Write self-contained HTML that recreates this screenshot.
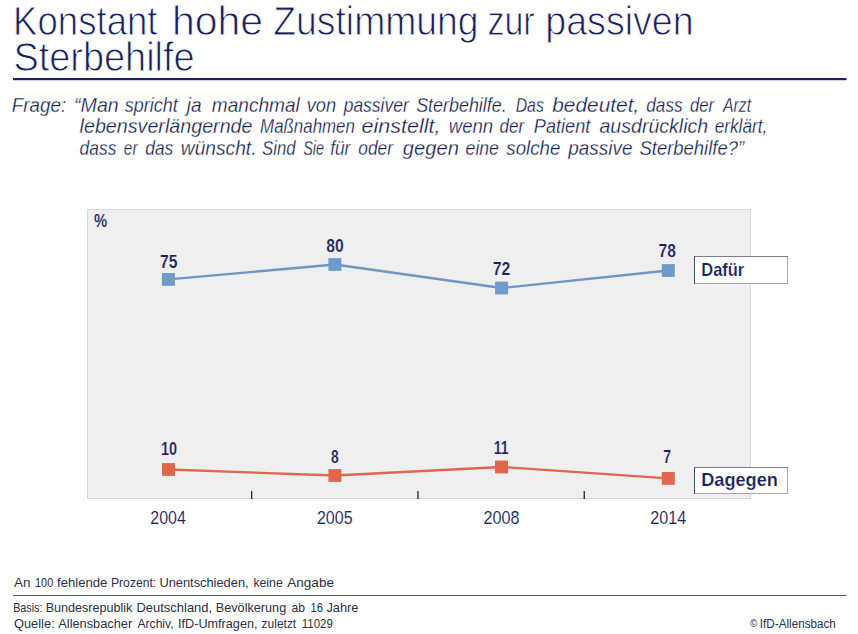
<!DOCTYPE html>
<html><head><meta charset="utf-8">
<title>Konstant hohe Zustimmung zur passiven Sterbehilfe</title>
<style>
html,body{margin:0;padding:0;background:#fff;}
body{width:858px;height:634px;position:relative;overflow:hidden;font-family:"Liberation Sans",sans-serif;}
svg{position:absolute;left:0;top:0;display:block;}
text{font-family:"Liberation Sans",sans-serif;white-space:pre;}
</style></head><body>
<svg width="858" height="634" viewBox="0 0 858 634">
  <rect x="0" y="0" width="858" height="634" fill="#ffffff"/>
  <!-- title rule -->
  <rect x="13" y="78" width="833.5" height="2.2" fill="#1b2260"/>
  <!-- chart frame -->
  <rect x="87.5" y="209.500" width="663" height="289" fill="#efefef" stroke="#d9d9de" stroke-width="1"/>
  <rect x="88" y="498" width="663" height="1" fill="#d2d2d9"/>
  <!-- ticks -->
  <g fill="#1b2040">
    <rect x="251" y="491" width="1.3" height="8"/>
    <rect x="417.3" y="491" width="1.3" height="8"/>
    <rect x="583.600" y="491" width="1.3" height="8"/>
  </g>
  <!-- series: Dafür -->
  <polyline points="168.4,279.4 334.9,264.5 501.6,288.0 668.3,270.5" fill="none" stroke="#6e96c1" stroke-width="2.3"/>
  <g fill="#6f9bc8">
    <rect x="161.9" y="273.0" width="13" height="12.8"/>
    <rect x="328.4" y="258.1" width="13" height="12.8"/>
    <rect x="495.1" y="281.6" width="13" height="12.8"/>
    <rect x="661.8" y="264.1" width="13" height="12.8"/>
  </g>
  <!-- series: Dagegen -->
  <polyline points="168.5,469.5 334.9,475.5 501.5,467.0 668.3,478.4" fill="none" stroke="#dd6850" stroke-width="2.3"/>
  <g fill="#e2654c">
    <rect x="162.0" y="463.1" width="13" height="12.8"/>
    <rect x="328.4" y="469.1" width="13" height="12.8"/>
    <rect x="495.0" y="460.6" width="13" height="12.8"/>
    <rect x="661.8" y="472.0" width="13" height="12.8"/>
  </g>
  <!-- legend boxes -->
  <g>
    <rect x="694.5" y="256.5" width="93" height="27" fill="#ffffff" stroke="#a6a6b2" stroke-width="1"/>
    <rect x="694" y="256" width="94" height="1" fill="#7c7c8c"/>
    <rect x="694" y="256" width="1" height="28" fill="#4a4a60"/>
    <rect x="694.5" y="467.5" width="93" height="26" fill="#ffffff" stroke="#a6a6b2" stroke-width="1"/>
    <rect x="694" y="467" width="94" height="1" fill="#7c7c8c"/>
    <rect x="694" y="467" width="1" height="27" fill="#4a4a60"/>
  </g>
  <!-- footer rule -->
  <rect x="13" y="595" width="833.5" height="1" fill="#555a68"/>
  <!-- text -->
  <text x="13.10" y="34.95" font-size="39.97" textLength="144.44" lengthAdjust="spacingAndGlyphs" fill="#19205e" stroke="#ffffff" stroke-width="0.90" stroke-linejoin="round">Konstant</text>
  <text x="172.00" y="34.95" font-size="39.97" textLength="91.11" lengthAdjust="spacingAndGlyphs" fill="#19205e" stroke="#ffffff" stroke-width="0.90" stroke-linejoin="round">hohe</text>
  <text x="273.32" y="34.95" font-size="39.97" textLength="205.21" lengthAdjust="spacingAndGlyphs" fill="#19205e" stroke="#ffffff" stroke-width="0.90" stroke-linejoin="round">Zustimmung</text>
  <text x="487.40" y="34.95" font-size="39.97" textLength="47.32" lengthAdjust="spacingAndGlyphs" fill="#19205e" stroke="#ffffff" stroke-width="0.90" stroke-linejoin="round">zur</text>
  <text x="545.37" y="34.95" font-size="39.97" textLength="148.17" lengthAdjust="spacingAndGlyphs" fill="#19205e" stroke="#ffffff" stroke-width="0.90" stroke-linejoin="round">passiven</text>
  <text x="13.50" y="70.95" font-size="39.97" textLength="181.11" lengthAdjust="spacingAndGlyphs" fill="#19205e" stroke="#ffffff" stroke-width="0.90" stroke-linejoin="round">Sterbehilfe</text>
  <text x="11.87" y="111.83" font-size="19.42" textLength="54.34" lengthAdjust="spacingAndGlyphs" fill="#161d50" stroke="#ffffff" stroke-width="0.26" stroke-linejoin="round" font-style="italic">Frage:</text>
  <text x="74.06" y="111.83" font-size="19.42" textLength="44.67" lengthAdjust="spacingAndGlyphs" fill="#161d50" stroke="#ffffff" stroke-width="0.26" stroke-linejoin="round" font-style="italic">“Man</text>
  <text x="124.67" y="111.83" font-size="19.42" textLength="53.16" lengthAdjust="spacingAndGlyphs" fill="#161d50" stroke="#ffffff" stroke-width="0.26" stroke-linejoin="round" font-style="italic">spricht</text>
  <text x="186.83" y="111.83" font-size="19.42" textLength="14.90" lengthAdjust="spacingAndGlyphs" fill="#161d50" stroke="#ffffff" stroke-width="0.26" stroke-linejoin="round" font-style="italic">ja</text>
  <text x="211.87" y="111.83" font-size="19.42" textLength="87.88" lengthAdjust="spacingAndGlyphs" fill="#161d50" stroke="#ffffff" stroke-width="0.26" stroke-linejoin="round" font-style="italic">manchmal</text>
  <text x="306.73" y="111.83" font-size="19.42" textLength="29.45" lengthAdjust="spacingAndGlyphs" fill="#161d50" stroke="#ffffff" stroke-width="0.26" stroke-linejoin="round" font-style="italic">von</text>
  <text x="343.67" y="111.83" font-size="19.42" textLength="65.07" lengthAdjust="spacingAndGlyphs" fill="#161d50" stroke="#ffffff" stroke-width="0.26" stroke-linejoin="round" font-style="italic">passiver</text>
  <text x="416.17" y="111.83" font-size="19.42" textLength="90.54" lengthAdjust="spacingAndGlyphs" fill="#161d50" stroke="#ffffff" stroke-width="0.26" stroke-linejoin="round" font-style="italic">Sterbehilfe.</text>
  <text x="515.67" y="111.83" font-size="19.42" textLength="28.22" lengthAdjust="spacingAndGlyphs" fill="#161d50" stroke="#ffffff" stroke-width="0.26" stroke-linejoin="round" font-style="italic">Das</text>
  <text x="552.27" y="111.83" font-size="19.42" textLength="86.96" lengthAdjust="spacingAndGlyphs" fill="#161d50" stroke="#ffffff" stroke-width="0.26" stroke-linejoin="round" font-style="italic">bedeutet,</text>
  <text x="646.27" y="111.83" font-size="19.42" textLength="36.30" lengthAdjust="spacingAndGlyphs" fill="#161d50" stroke="#ffffff" stroke-width="0.26" stroke-linejoin="round" font-style="italic">dass</text>
  <text x="690.07" y="111.83" font-size="19.42" textLength="24.04" lengthAdjust="spacingAndGlyphs" fill="#161d50" stroke="#ffffff" stroke-width="0.26" stroke-linejoin="round" font-style="italic">der</text>
  <text x="722.99" y="111.83" font-size="19.42" textLength="28.23" lengthAdjust="spacingAndGlyphs" fill="#161d50" stroke="#ffffff" stroke-width="0.26" stroke-linejoin="round" font-style="italic">Arzt</text>
  <text x="79.57" y="133.03" font-size="19.42" textLength="172.95" lengthAdjust="spacingAndGlyphs" fill="#161d50" stroke="#ffffff" stroke-width="0.26" stroke-linejoin="round" font-style="italic">lebensverlängernde</text>
  <text x="260.07" y="133.03" font-size="19.42" textLength="94.85" lengthAdjust="spacingAndGlyphs" fill="#161d50" stroke="#ffffff" stroke-width="0.26" stroke-linejoin="round" font-style="italic">Maßnahmen</text>
  <text x="361.57" y="133.03" font-size="19.42" textLength="78.90" lengthAdjust="spacingAndGlyphs" fill="#161d50" stroke="#ffffff" stroke-width="0.26" stroke-linejoin="round" font-style="italic">einstellt,</text>
  <text x="448.77" y="133.03" font-size="19.42" textLength="44.32" lengthAdjust="spacingAndGlyphs" fill="#161d50" stroke="#ffffff" stroke-width="0.26" stroke-linejoin="round" font-style="italic">wenn</text>
  <text x="499.57" y="133.03" font-size="19.42" textLength="24.52" lengthAdjust="spacingAndGlyphs" fill="#161d50" stroke="#ffffff" stroke-width="0.26" stroke-linejoin="round" font-style="italic">der</text>
  <text x="533.87" y="133.03" font-size="19.42" textLength="56.46" lengthAdjust="spacingAndGlyphs" fill="#161d50" stroke="#ffffff" stroke-width="0.26" stroke-linejoin="round" font-style="italic">Patient</text>
  <text x="599.47" y="133.03" font-size="19.42" textLength="108.76" lengthAdjust="spacingAndGlyphs" fill="#161d50" stroke="#ffffff" stroke-width="0.26" stroke-linejoin="round" font-style="italic">ausdrücklich</text>
  <text x="714.67" y="133.03" font-size="19.42" textLength="52.70" lengthAdjust="spacingAndGlyphs" fill="#161d50" stroke="#ffffff" stroke-width="0.26" stroke-linejoin="round" font-style="italic">erklärt,</text>
  <text x="79.57" y="154.53" font-size="19.42" textLength="36.79" lengthAdjust="spacingAndGlyphs" fill="#161d50" stroke="#ffffff" stroke-width="0.26" stroke-linejoin="round" font-style="italic">dass</text>
  <text x="123.87" y="154.53" font-size="19.42" textLength="13.64" lengthAdjust="spacingAndGlyphs" fill="#161d50" stroke="#ffffff" stroke-width="0.26" stroke-linejoin="round" font-style="italic">er</text>
  <text x="145.27" y="154.53" font-size="19.42" textLength="27.99" lengthAdjust="spacingAndGlyphs" fill="#161d50" stroke="#ffffff" stroke-width="0.26" stroke-linejoin="round" font-style="italic">das</text>
  <text x="180.87" y="154.53" font-size="19.42" textLength="75.63" lengthAdjust="spacingAndGlyphs" fill="#161d50" stroke="#ffffff" stroke-width="0.26" stroke-linejoin="round" font-style="italic">wünscht.</text>
  <text x="262.07" y="154.53" font-size="19.42" textLength="33.52" lengthAdjust="spacingAndGlyphs" fill="#161d50" stroke="#ffffff" stroke-width="0.26" stroke-linejoin="round" font-style="italic">Sind</text>
  <text x="303.17" y="154.53" font-size="19.42" textLength="20.81" lengthAdjust="spacingAndGlyphs" fill="#161d50" stroke="#ffffff" stroke-width="0.26" stroke-linejoin="round" font-style="italic">Sie</text>
  <text x="330.17" y="154.53" font-size="19.42" textLength="20.19" lengthAdjust="spacingAndGlyphs" fill="#161d50" stroke="#ffffff" stroke-width="0.26" stroke-linejoin="round" font-style="italic">für</text>
  <text x="358.27" y="154.53" font-size="19.42" textLength="34.69" lengthAdjust="spacingAndGlyphs" fill="#161d50" stroke="#ffffff" stroke-width="0.26" stroke-linejoin="round" font-style="italic">oder</text>
  <text x="402.87" y="154.53" font-size="19.42" textLength="56.19" lengthAdjust="spacingAndGlyphs" fill="#161d50" stroke="#ffffff" stroke-width="0.26" stroke-linejoin="round" font-style="italic">gegen</text>
  <text x="465.57" y="154.53" font-size="19.42" textLength="33.37" lengthAdjust="spacingAndGlyphs" fill="#161d50" stroke="#ffffff" stroke-width="0.26" stroke-linejoin="round" font-style="italic">eine</text>
  <text x="506.37" y="154.53" font-size="19.42" textLength="53.96" lengthAdjust="spacingAndGlyphs" fill="#161d50" stroke="#ffffff" stroke-width="0.26" stroke-linejoin="round" font-style="italic">solche</text>
  <text x="568.25" y="154.53" font-size="19.42" textLength="64.28" lengthAdjust="spacingAndGlyphs" fill="#161d50" stroke="#ffffff" stroke-width="0.26" stroke-linejoin="round" font-style="italic">passive</text>
  <text x="639.47" y="154.53" font-size="19.42" textLength="104.60" lengthAdjust="spacingAndGlyphs" fill="#161d50" stroke="#ffffff" stroke-width="0.26" stroke-linejoin="round" font-style="italic">Sterbehilfe?”</text>
  <text x="14.00" y="586.70" font-size="12.94" textLength="16.50" lengthAdjust="spacingAndGlyphs" fill="#2a2f48">An</text>
  <text x="35.00" y="586.70" font-size="12.94" textLength="18.27" lengthAdjust="spacingAndGlyphs" fill="#2a2f48">100</text>
  <text x="57.10" y="586.70" font-size="12.94" textLength="50.30" lengthAdjust="spacingAndGlyphs" fill="#2a2f48">fehlende</text>
  <text x="110.96" y="586.70" font-size="12.94" textLength="45.30" lengthAdjust="spacingAndGlyphs" fill="#2a2f48">Prozent:</text>
  <text x="159.41" y="586.70" font-size="12.94" textLength="89.18" lengthAdjust="spacingAndGlyphs" fill="#2a2f48">Unentschieden,</text>
  <text x="253.40" y="586.70" font-size="12.94" textLength="29.39" lengthAdjust="spacingAndGlyphs" fill="#2a2f48">keine</text>
  <text x="287.20" y="586.70" font-size="12.94" textLength="46.80" lengthAdjust="spacingAndGlyphs" fill="#2a2f48">Angabe</text>
  <text x="13.17" y="611.60" font-size="12.94" textLength="29.33" lengthAdjust="spacingAndGlyphs" fill="#2a2f48">Basis:</text>
  <text x="45.63" y="611.60" font-size="12.94" textLength="86.76" lengthAdjust="spacingAndGlyphs" fill="#2a2f48">Bundesrepublik</text>
  <text x="136.50" y="611.60" font-size="12.94" textLength="75.60" lengthAdjust="spacingAndGlyphs" fill="#2a2f48">Deutschland,</text>
  <text x="215.82" y="611.60" font-size="12.94" textLength="70.37" lengthAdjust="spacingAndGlyphs" fill="#2a2f48">Bevölkerung</text>
  <text x="291.40" y="611.60" font-size="12.94" textLength="13.48" lengthAdjust="spacingAndGlyphs" fill="#2a2f48">ab</text>
  <text x="310.50" y="611.60" font-size="12.94" textLength="12.37" lengthAdjust="spacingAndGlyphs" fill="#2a2f48">16</text>
  <text x="326.40" y="611.60" font-size="12.94" textLength="32.09" lengthAdjust="spacingAndGlyphs" fill="#2a2f48">Jahre</text>
  <text x="14.00" y="628.40" font-size="12.94" textLength="40.59" lengthAdjust="spacingAndGlyphs" fill="#2a2f48">Quelle:</text>
  <text x="58.30" y="628.40" font-size="12.94" textLength="73.92" lengthAdjust="spacingAndGlyphs" fill="#2a2f48">Allensbacher</text>
  <text x="137.50" y="628.40" font-size="12.94" textLength="36.06" lengthAdjust="spacingAndGlyphs" fill="#2a2f48">Archiv,</text>
  <text x="178.02" y="628.40" font-size="12.94" textLength="79.46" lengthAdjust="spacingAndGlyphs" fill="#2a2f48">IfD-Umfragen,</text>
  <text x="261.60" y="628.40" font-size="12.94" textLength="34.62" lengthAdjust="spacingAndGlyphs" fill="#2a2f48">zuletzt</text>
  <text x="301.70" y="628.40" font-size="12.94" textLength="31.17" lengthAdjust="spacingAndGlyphs" fill="#2a2f48">11029</text>
  <text x="750.00" y="626.70" font-size="10.47" textLength="7.33" lengthAdjust="spacingAndGlyphs" fill="#2a2f48">©</text>
  <text x="759.87" y="627.70" font-size="12.5" textLength="75.99" lengthAdjust="spacingAndGlyphs" fill="#2a2f48">IfD-Allensbach</text>
  <text x="93.90" y="226.70" font-size="17.73" textLength="13.19" lengthAdjust="spacingAndGlyphs" fill="#19205e" stroke="#efefef" stroke-width="0.20" stroke-linejoin="round" font-weight="bold">%</text>
  <text x="160.10" y="267.60" font-size="17.73" textLength="17.47" lengthAdjust="spacingAndGlyphs" fill="#19205e" stroke="#efefef" stroke-width="0.20" stroke-linejoin="round" font-weight="bold">75</text>
  <text x="326.30" y="251.60" font-size="17.73" textLength="17.47" lengthAdjust="spacingAndGlyphs" fill="#19205e" stroke="#efefef" stroke-width="0.20" stroke-linejoin="round" font-weight="bold">80</text>
  <text x="492.70" y="274.80" font-size="17.73" textLength="17.47" lengthAdjust="spacingAndGlyphs" fill="#19205e" stroke="#efefef" stroke-width="0.20" stroke-linejoin="round" font-weight="bold">72</text>
  <text x="658.60" y="256.80" font-size="17.73" textLength="17.37" lengthAdjust="spacingAndGlyphs" fill="#19205e" stroke="#efefef" stroke-width="0.20" stroke-linejoin="round" font-weight="bold">78</text>
  <text x="161.08" y="454.60" font-size="17.73" textLength="16.10" lengthAdjust="spacingAndGlyphs" fill="#19205e" stroke="#efefef" stroke-width="0.20" stroke-linejoin="round" font-weight="bold">10</text>
  <text x="331.10" y="462.80" font-size="17.73" textLength="7.69" lengthAdjust="spacingAndGlyphs" fill="#19205e" stroke="#efefef" stroke-width="0.20" stroke-linejoin="round" font-weight="bold">8</text>
  <text x="493.71" y="453.90" font-size="17.73" textLength="14.77" lengthAdjust="spacingAndGlyphs" fill="#19205e" stroke="#efefef" stroke-width="0.20" stroke-linejoin="round" font-weight="bold">11</text>
  <text x="663.20" y="463.40" font-size="17.73" textLength="7.78" lengthAdjust="spacingAndGlyphs" fill="#19205e" stroke="#efefef" stroke-width="0.20" stroke-linejoin="round" font-weight="bold">7</text>
  <text x="150.34" y="524.06" font-size="17.62" textLength="35.53" lengthAdjust="spacingAndGlyphs" fill="#1a2158" stroke="#ffffff" stroke-width="0.12" stroke-linejoin="round">2004</text>
  <text x="316.94" y="524.06" font-size="17.62" textLength="35.63" lengthAdjust="spacingAndGlyphs" fill="#1a2158" stroke="#ffffff" stroke-width="0.12" stroke-linejoin="round">2005</text>
  <text x="483.44" y="524.06" font-size="17.62" textLength="36.03" lengthAdjust="spacingAndGlyphs" fill="#1a2158" stroke="#ffffff" stroke-width="0.12" stroke-linejoin="round">2008</text>
  <text x="650.34" y="524.06" font-size="17.62" textLength="36.03" lengthAdjust="spacingAndGlyphs" fill="#1a2158" stroke="#ffffff" stroke-width="0.12" stroke-linejoin="round">2014</text>
  <text x="701.27" y="276.20" font-size="17.73" textLength="43.03" lengthAdjust="spacingAndGlyphs" fill="#19205e" stroke="#ffffff" stroke-width="0.20" stroke-linejoin="round" font-weight="bold">Dafür</text>
  <text x="701.17" y="485.90" font-size="17.73" textLength="76.77" lengthAdjust="spacingAndGlyphs" fill="#19205e" stroke="#ffffff" stroke-width="0.20" stroke-linejoin="round" font-weight="bold">Dagegen</text>
</svg>
</body></html>
